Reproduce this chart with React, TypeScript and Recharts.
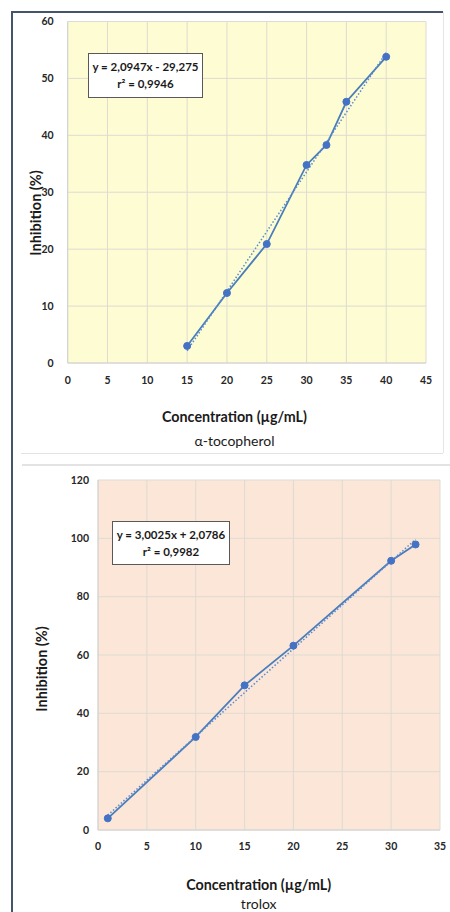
import React from 'react';
import { ComposedChart, Line, XAxis, YAxis, CartesianGrid, Label } from 'recharts';

// α-tocopherol
const tocoConc = [15, 20, 25, 30, 32.5, 35, 40];
const tocoInhib = [3.0, 12.3, 20.9, 34.8, 38.3, 45.9, 53.8];
const tocoTrendX = [15, 40];
const tocoTrendY = [2.15, 54.51];
const tocoXTicks = [0, 5, 10, 15, 20, 25, 30, 35, 40, 45];
const tocoYTicks = [0, 10, 20, 30, 40, 50, 60];
const tocoEq = ['y = 2,0947x - 29,275', 'r² = 0,9946'];

// trolox
const troloxConc = [1, 10, 15, 20, 30, 32.5];
const troloxInhib = [4.0, 31.9, 49.6, 63.2, 92.3, 97.9];
const troloxTrendX = [1, 32.5];
const troloxTrendY = [5.08, 99.66];
const troloxXTicks = [0, 5, 10, 15, 20, 25, 30, 35];
const troloxYTicks = [0, 20, 40, 60, 80, 100, 120];
const troloxEq = ['y = 3,0025x + 2,0786', 'r² = 0,9982'];

const xTitle = 'Concentration (µg/mL)';
const yTitle = 'Inhibition (%)';

const FONT = 'Lato, "Open Sans", sans-serif';

type ChartProps = {
  height: number;
  margin: { top: number; right: number; bottom: number; left: number };
  yWidth: number;
  bg: string;
  xs: number[];
  ys: number[];
  tx: number[];
  ty: number[];
  xTicks: number[];
  yTicks: number[];
  xTickMargin: number;
  yTickMargin: number;
  sub: string;
  xTitlePos: { x: number; y1: number; y2: number };
  yTitlePos: { x: number; y: number };
};

function CurveChart(p: ChartProps) {
  const pts = p.xs.map((x, i) => ({ x, y: p.ys[i] }));
  const trend = p.tx.map((x, i) => ({ x, y: p.ty[i] }));
  const tickStyle = { fontSize: 10.5, fontWeight: 700, fill: '#262626', fontFamily: FONT };
  return (
    <ComposedChart width={450} height={p.height} margin={p.margin}>
      <CartesianGrid stroke="#dedbd2" fill={p.bg} fillOpacity={1} />
      <XAxis
        type="number"
        dataKey="x"
        domain={[p.xTicks[0], p.xTicks[p.xTicks.length - 1]]}
        ticks={p.xTicks}
        interval={0}
        tickLine={false}
        axisLine={{ stroke: '#d2d2d2' }}
        tick={tickStyle}
        tickMargin={p.xTickMargin}
        height={30}
        allowDataOverflow
      >
        <Label
          content={() => (
            <g>
              <text x={p.xTitlePos.x} y={p.xTitlePos.y1} textAnchor="middle" fontFamily={FONT} fontWeight={700} fontSize={14.3} fill="#1a1a1a">
                {xTitle}
              </text>
              <text x={p.xTitlePos.x} y={p.xTitlePos.y2} textAnchor="middle" fontFamily={FONT} fontWeight={400} fontSize={14} fill="#1a1a1a">
                {p.sub}
              </text>
            </g>
          )}
        />
      </XAxis>
      <YAxis
        type="number"
        domain={[p.yTicks[0], p.yTicks[p.yTicks.length - 1]]}
        ticks={p.yTicks}
        interval={0}
        tickLine={false}
        axisLine={{ stroke: '#d2d2d2' }}
        tick={tickStyle}
        tickMargin={p.yTickMargin}
        width={p.yWidth}
        allowDataOverflow
      >
        <Label
          content={() => (
            <text
              x={p.yTitlePos.x}
              y={p.yTitlePos.y}
              transform={`rotate(-90, ${p.yTitlePos.x}, ${p.yTitlePos.y})`}
              textAnchor="middle"
              dominantBaseline="central"
              fontFamily={FONT}
              fontWeight={700}
              fontSize={14.5}
              fill="#1a1a1a"
            >
              {yTitle}
            </text>
          )}
        />
      </YAxis>
      <Line
        data={pts}
        dataKey="y"
        type="linear"
        stroke="#4a7ebb"
        strokeWidth={1.8}
        dot={{ r: 3.5, fill: '#4472c4', stroke: '#4472c4', strokeWidth: 1 }}
        activeDot={false}
        isAnimationActive={false}
      />
      <Line
        data={trend}
        dataKey="y"
        type="linear"
        stroke="#5b8bd0"
        strokeWidth={1.5}
        strokeDasharray="1.5 2"
        dot={false}
        activeDot={false}
        isAnimationActive={false}
      />
    </ComposedChart>
  );
}

function EqBox({ left, top, width, height, lines }: { left: number; top: number; width: number; height: number; lines: string[] }) {
  return (
    <div
      style={{
        position: 'absolute',
        left,
        top,
        width,
        height,
        boxSizing: 'border-box',
        border: '1px solid #595959',
        background: '#ffffff',
        fontFamily: FONT,
        fontWeight: 700,
        fontSize: 11.5,
        lineHeight: '17px',
        color: '#1a1a1a',
        textAlign: 'center',
        paddingTop: 4,
        whiteSpace: 'nowrap',
      }}
    >
      {lines.map((l, i) => (
        <div key={i}>{l}</div>
      ))}
    </div>
  );
}

export default function App() {
  return (
    <div style={{ position: 'absolute', left: 0, top: 0, width: 450, height: 912, background: '#fff', overflow: 'hidden' }}>
      {/* frame lines */}
      <div style={{ position: 'absolute', left: 12, top: 11, width: 431, height: 1.5, background: '#44546a' }} />
      <div style={{ position: 'absolute', left: 11, top: 11, width: 1.5, height: 901, background: '#44546a' }} />
      <div style={{ position: 'absolute', left: 443, top: 12, width: 1, height: 441, background: '#e6e6e6' }} />
      <div style={{ position: 'absolute', left: 21, top: 453, width: 422, height: 1, background: '#e3e3e3' }} />
      <div style={{ position: 'absolute', left: 22, top: 464, width: 428, height: 1.5, background: '#e3e3e3' }} />

      <div style={{ position: 'absolute', left: 0, top: 0 }}>
        <CurveChart
          height={460}
          margin={{ top: 21.5, right: 24, bottom: 67, left: 0 }}
          yWidth={67.7}
          bg="#fdfcd2"
          xs={tocoConc}
          ys={tocoInhib}
          tx={tocoTrendX}
          ty={tocoTrendY}
          xTicks={tocoXTicks}
          yTicks={tocoYTicks}
          xTickMargin={8}
          yTickMargin={8}
          sub="α-tocopherol"
          xTitlePos={{ x: 234.5, y1: 422, y2: 446 }}
          yTitlePos={{ x: 35, y: 213 }}
        />
      </div>
      <div style={{ position: 'absolute', left: 0, top: 460 }}>
        <CurveChart
          height={452}
          margin={{ top: 20, right: 10, bottom: 52, left: 0 }}
          yWidth={98}
          bg="#fbe6d8"
          xs={troloxConc}
          ys={troloxInhib}
          tx={troloxTrendX}
          ty={troloxTrendY}
          xTicks={troloxXTicks}
          yTicks={troloxYTicks}
          xTickMargin={7}
          yTickMargin={3}
          sub="trolox"
          xTitlePos={{ x: 258.7, y1: 430, y2: 449 }}
          yTitlePos={{ x: 41, y: 209 }}
        />
      </div>
      <EqBox left={88} top={53} width={115} height={45} lines={tocoEq} />
      <EqBox left={112} top={521} width={118} height={44} lines={troloxEq} />
    </div>
  );
}
